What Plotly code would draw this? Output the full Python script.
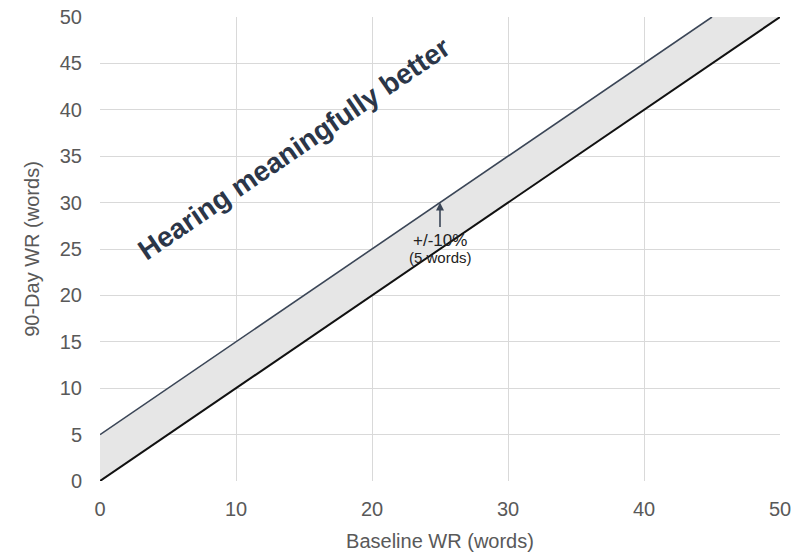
import math
import plotly.graph_objects as go

# Line of no change and the +5-word (10%) threshold line
baseline = [0, 50]
no_change = [0, 50]
thr_x = [0, 45]
thr_y = [5, 50]

ticks = [0, 5, 10, 15, 20, 25, 30, 35, 40, 45, 50]
xticks = [0, 10, 20, 30, 40, 50]

fig = go.Figure()

# shaded band between the two lines
band_x = baseline + thr_x[::-1] + [baseline[0]]
band_y = no_change + thr_y[::-1] + [no_change[0]]
fig.add_trace(go.Scatter(x=band_x, y=band_y, mode="lines", fill="toself",
                         fillcolor="#e6e6e6", line=dict(width=0),
                         hoverinfo="skip", showlegend=False))
fig.add_trace(go.Scatter(x=thr_x, y=thr_y, mode="lines",
                         line=dict(color="#3b4657", width=1.6),
                         showlegend=False))
fig.add_trace(go.Scatter(x=baseline, y=no_change, mode="lines",
                         line=dict(color="#111111", width=2),
                         showlegend=False))

W, H = 801, 558
ml, mr, mt, mb = 100, 21, 17, 77
pw, ph = W - ml - mr, H - mt - mb
angle = math.degrees(math.atan((ph / 50) / (pw / 50)))

fig.add_annotation(x=14.3, y=35.8, text="<b>Hearing meaningfully better</b>",
                   showarrow=False, textangle=-angle,
                   font=dict(family="Liberation Sans", size=28, color="#2b3648"))

fig.add_annotation(x=25, y=30, ax=25, ay=27.2, xref="x", yref="y",
                   axref="x", ayref="y", text="", showarrow=True,
                   arrowhead=2, arrowsize=1, arrowwidth=1.6, arrowcolor="#3b4657")
fig.add_annotation(x=25, y=25.9, text="+/-10%", showarrow=False,
                   font=dict(family="Liberation Sans", size=17, color="#222222"))
fig.add_annotation(x=25, y=24.1, text="(5 words)", showarrow=False,
                   font=dict(family="Liberation Sans", size=15, color="#222222"))

axis_font = dict(family="Liberation Sans", size=20, color="#595959")
fig.update_xaxes(range=[0, 50], tickvals=xticks, showgrid=True, gridcolor="#d9d9d9",
                 gridwidth=1.3, zeroline=False, showline=False, tickfont=axis_font,
                 ticks="", ticklabelstandoff=14, automargin=False,
                 title=dict(text="Baseline WR (words)", font=axis_font, standoff=14))
fig.update_yaxes(range=[0, 50], tickvals=ticks, showgrid=True, gridcolor="#d9d9d9",
                 gridwidth=1.3, zeroline=False, showline=False, tickfont=axis_font,
                 ticks="", ticklabelstandoff=17, automargin=False,
                 title=dict(text="90-Day WR (words)", font=axis_font, standoff=14))

fig.update_layout(width=W, height=H, margin=dict(l=ml, r=mr, t=mt, b=mb),
                  plot_bgcolor="white", paper_bgcolor="white")

fig.write_html("out.html")
